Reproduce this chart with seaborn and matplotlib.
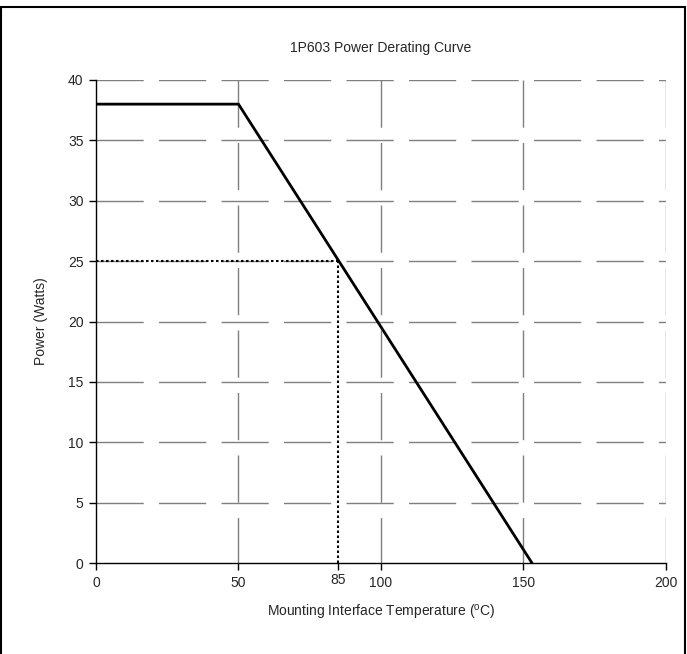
import numpy as np
import pandas as pd
import matplotlib
matplotlib.use("Agg")
import matplotlib.pyplot as plt
import seaborn as sns
from matplotlib.patches import Rectangle

# Derating curve data
temp_c = [0, 50, 153]
power_w = [38, 38, 0]

# Operating point marker (dotted guide lines)
op_temp = 85
op_power = 25

x_ticks = [0, 50, 85, 100, 150, 200]
y_ticks = [0, 5, 10, 15, 20, 25, 30, 35, 40]
grid_x = [50, 100, 150, 200]

df = pd.DataFrame({"temp": temp_c, "power": power_w})

sns.set_style("white")
plt.rcParams['font.family'] = ['Liberation Sans', 'DejaVu Sans']

fig = plt.figure(figsize=(6.87, 6.54), dpi=100)
ax = fig.add_axes([0.1397, 0.139, 0.8297, 0.7387])

# dashed grid (verticals drawn from the top down, like the original)
for xv in grid_x:
    ax.plot([xv, xv], [40, 0], color="#7f7f7f", lw=1, dashes=(34, 11), zorder=1)
for yv in y_ticks[1:]:
    ax.plot([0, 200], [yv, yv], color="#7f7f7f", lw=1, dashes=(34, 11), zorder=1)

sns.lineplot(data=df, x="temp", y="power", color="black", lw=2, ax=ax, zorder=3)

# dotted lines to the 85C / 25W point
ax.plot([op_temp, op_temp], [0, op_power], color="black", lw=1.5, ls=(0, (1.2, 1.2)), zorder=2)
ax.plot([0, op_temp], [op_power, op_power], color="black", lw=1.5, ls=(0, (1.2, 1.2)), zorder=2)

ax.set_xlim(0, 200)
ax.set_ylim(0, 40)
ax.set_xticks(x_ticks)
ax.set_yticks(y_ticks)
ax.tick_params(axis="both", direction="out", length=5, width=1, color="black",
               labelsize=10, pad=4, bottom=True, left=True)
for lbl in ax.get_xticklabels():
    if lbl.get_text() == "85":
        lbl.set_y(0.006)

for side in ["top", "right"]:
    ax.spines[side].set_visible(False)
for side in ["left", "bottom"]:
    ax.spines[side].set_color("black")
    ax.spines[side].set_linewidth(1)

ax.set_xlabel("Mounting Interface Temperature ($^{\\mathregular{o}}$C)", fontsize=10, labelpad=10)
ax.set_ylabel("Power (Watts)", fontsize=10, labelpad=14)
ax.set_title("1P603 Power Derating Curve", fontsize=10, pad=20)

# border around the chart (bottom edge falls outside the image, as in the original)
fig.patches.append(Rectangle((0.002, -0.05), 0.995, 1.039, transform=fig.transFigure,
                             fill=False, edgecolor="black", lw=1.5))

fig.savefig("out.png", dpi=100)
